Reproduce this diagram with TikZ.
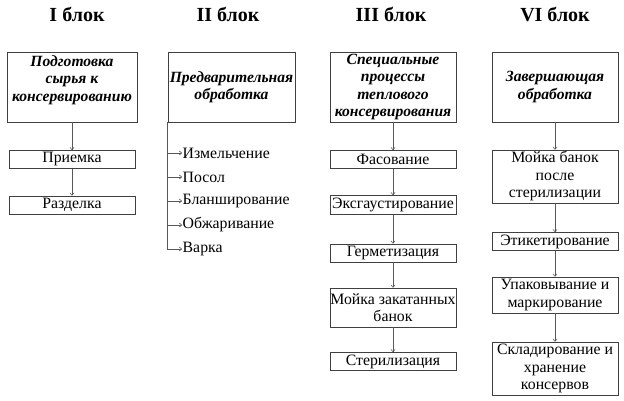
\documentclass[tikz,border=0pt]{standalone}
\usepackage{fontspec}
\setmainfont{Liberation Serif}
\usetikzlibrary{arrows.meta}
\begin{document}
\begin{tikzpicture}[x=1pt,y=-1pt,
  box/.style={draw=black!75,line width=0.7pt,align=center,inner sep=0pt,
    font=\fontsize{15.8}{17.5}\selectfont,minimum width=126pt},
  hdr/.style={box,minimum height=70pt,font=\fontsize{15.6}{17.5}\selectfont\bfseries\itshape},
  ttl/.style={font=\fontsize{20}{22}\selectfont\bfseries,anchor=base},
  itm/.style={anchor=west,inner sep=0.5pt,font=\fontsize{15.8}{17.5}\selectfont},
  arr/.style={draw=black!65,line width=0.6pt,-{To[length=3pt,width=4.5pt]}}]
\useasboundingbox (0,0) rectangle (624,400);
\node[ttl] (tI) at (77,21) {I блок};
\node[ttl] (tII) at (228,21) {II блок};
\node[ttl] (tIII) at (391,21) {III блок};
\node[ttl] (tVI) at (555,21) {VI блок};
\node[hdr,minimum width=130pt] (hI) at (72,87) {Подготовка\\сырья к\\консервированию\\\mbox{}};
\node[box,minimum height=18pt] (pr) at (72,159.5) {Приемка};
\node[box,minimum height=18pt] (rz) at (72,205) {Разделка};
\node[hdr,minimum width=127pt] (hII) at (231.5,87) {Предварительная\\обработка};
\node[itm] (i1) at (182,153) {Измельчение};
\node[itm] (i2) at (182,177) {Посол};
\node[itm] (i3) at (182,201) {Бланширование};
\node[itm] (i4) at (182,225) {Обжаривание};
\node[itm] (i5) at (182,249) {Варка};
\node[hdr] (hIII) at (393,87) {Специальные\\процессы\\теплового\\консервирования};
\node[box,minimum height=18pt] (fs) at (393,159.5) {Фасование};
\node[box,minimum height=19pt] (ek) at (393,205) {Эксгаустирование};
\node[box,minimum height=39pt] (mz) at (393,307.5) {Мойка закатанных\\банок};
\node[box,minimum height=18pt] (gr) at (393,253) {Герметизация};
\node[box,minimum height=18pt] (st) at (393,361.5) {Стерилизация};
\node[hdr] (hVI) at (555,87) {Завершающая\\обработка};
\node[box,minimum height=53pt] (mb) at (555,176.5) {Мойка банок\\после\\стерилизации};
\node[box,minimum height=18pt] (et) at (555,241.5) {Этикетирование};
\node[box,minimum height=36pt] (up) at (555,295) {Упаковывание и\\маркирование};
\node[box,minimum height=53pt] (sk) at (555,368.5) {Складирование и\\хранение\\консервов};
\draw[arr] (hI) -- (pr);
\draw[arr] (pr) -- (rz);
\foreach \i in {i1,i2,i3,i4,i5}
  \draw[arr] (hII.south west) |- (\i.west);
\draw[arr] (hIII) -- (fs);
\draw[arr] (fs) -- (ek);
\draw[arr] (ek) -- (gr);
\draw[arr] (gr) -- (mz);
\draw[arr] (mz) -- (st);
\draw[arr] (hVI) -- (mb);
\draw[arr] (mb) -- (et);
\draw[arr] (et) -- (up);
\draw[arr] (up) -- (sk);
\end{tikzpicture}
\end{document}
